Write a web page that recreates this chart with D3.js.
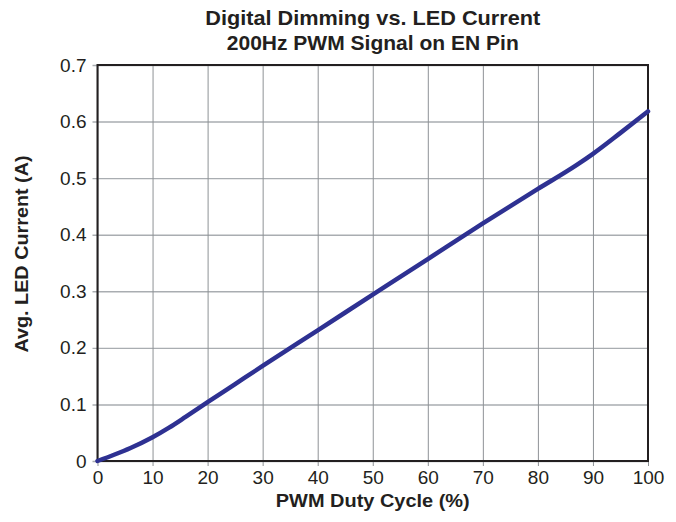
<!DOCTYPE html>
<html>
<head>
<meta charset="utf-8">
<script src="https://cdn.jsdelivr.net/npm/d3@7"></script>
<style>
  body { margin: 0; background: #fff; }
  text { font-family: "Liberation Sans", Arial, Helvetica, sans-serif; }
</style>
</head>
<body>
<svg id="chart" width="676" height="522"></svg>
<script>
// values
const dutyCycle = [0, 3, 6, 10, 13, 16, 20, 25, 30, 40, 50, 60, 70, 80, 87, 90, 95, 100];
const ledCurrent = [0, 0.011, 0.023, 0.042, 0.059, 0.078, 0.104, 0.136, 0.168, 0.231, 0.294, 0.357, 0.42, 0.481, 0.523, 0.543, 0.58, 0.618];
const xTicks = [0, 10, 20, 30, 40, 50, 60, 70, 80, 90, 100];
const yTicks = [0, 0.1, 0.2, 0.3, 0.4, 0.5, 0.6, 0.7];
const titleLines = ["Digital Dimming vs. LED Current", "200Hz PWM Signal on EN Pin"];

const margin = {left: 97.5, top: 65, right: 28, bottom: 61};
const width = 676 - margin.left - margin.right;
const height = 522 - margin.top - margin.bottom;
const ink = '#231f20';

const svg = d3.select('#chart');
const g = svg.append('g')
  .attr('transform', `translate(${margin.left},${margin.top})`);

let x = d3.scaleLinear().domain([0, 100]).range([0, width]);
let y = d3.scaleLinear().domain([0, 0.7]).range([height, 0]);

// horizontal grid + y ticks
let yAxis = g.append('g')
  .call(d3.axisLeft(y).tickValues(yTicks).tickSize(-width).tickSizeOuter(0)
    .tickFormat(d => d === 0 ? '0' : d3.format('.1f')(d)));
yAxis.select('.domain').remove();
yAxis.selectAll('line')
  .attr('x1', -5)
  .attr('stroke', '#a9adb1')
  .attr('stroke-width', 1.4);
yAxis.selectAll('text')
  .attr('x', -11)
  .attr('font-size', 19)
  .attr('fill', ink);

// vertical grid + x ticks
let xAxis = g.append('g')
  .attr('transform', `translate(0,${height})`)
  .call(d3.axisBottom(x).tickValues(xTicks).tickSize(-height).tickSizeOuter(0));
xAxis.select('.domain').remove();
xAxis.selectAll('line')
  .attr('y1', 5)
  .attr('stroke', '#8e9296')
  .attr('stroke-width', 1);
xAxis.selectAll('text')
  .attr('y', 10)
  .attr('font-size', 19)
  .attr('fill', ink);

// frame
g.append('rect')
  .attr('x', 0)
  .attr('y', 0)
  .attr('width', width)
  .attr('height', height)
  .attr('fill', 'none')
  .attr('stroke', ink)
  .attr('stroke-width', 2);

// curve
let line = d3.line()
  .x((d, i) => x(d))
  .y((d, i) => y(ledCurrent[i]))
  .curve(d3.curveMonotoneX);

g.append('path')
  .datum(dutyCycle)
  .attr('d', line)
  .attr('fill', 'none')
  .attr('stroke', '#2e3192')
  .attr('stroke-width', 4.5)
  .attr('stroke-linecap', 'round');

// titles
const titleWidths = [335, 292];
svg.selectAll('.title')
  .data(titleLines)
  .enter().append('text')
  .attr('class', 'title')
  .attr('x', margin.left + width / 2)
  .attr('y', (d, i) => 25 + i * 25)
  .attr('text-anchor', 'middle')
  .attr('font-size', 20.5)
  .attr('font-weight', 'bold')
  .attr('fill', ink)
  .attr('textLength', (d, i) => titleWidths[i])
  .attr('lengthAdjust', 'spacingAndGlyphs')
  .text(d => d);

svg.append('text')
  .attr('x', margin.left + width / 2)
  .attr('y', 507)
  .attr('text-anchor', 'middle')
  .attr('font-size', 17.5)
  .attr('font-weight', 'bold')
  .attr('fill', ink)
  .attr('textLength', 194)
  .attr('lengthAdjust', 'spacingAndGlyphs')
  .text('PWM Duty Cycle (%)');

svg.append('text')
  .attr('transform', `translate(28,254) rotate(-90)`)
  .attr('text-anchor', 'middle')
  .attr('font-size', 17.5)
  .attr('font-weight', 'bold')
  .attr('fill', ink)
  .attr('textLength', 197)
  .attr('lengthAdjust', 'spacingAndGlyphs')
  .text('Avg. LED Current (A)');
</script>
</body>
</html>
